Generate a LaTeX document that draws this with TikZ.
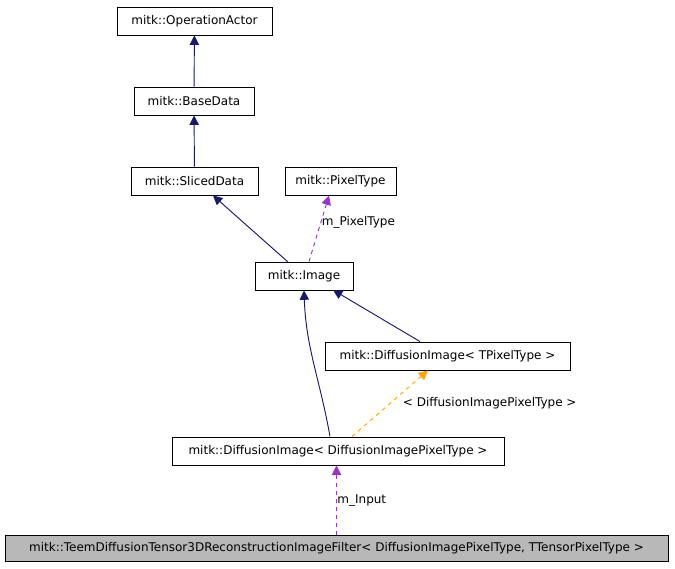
\documentclass[tikz,border=0pt]{standalone}
\usepackage{fontspec}
\setmainfont{DejaVu Sans}
\usetikzlibrary{arrows.meta}
\begin{document}
\begin{tikzpicture}[x=0.75pt, y=-0.75pt, font=\fontsize{9}{10}\selectfont, line width=0.7pt]

	\tikzstyle{klasse}=[draw, fill=white, minimum height=21pt, inner sep=1pt]
	\tikzstyle{erbt}=[navy, -{Triangle[length=7pt, width=7pt]}]
	\tikzstyle{nutzt}=[dashed, -{Triangle[length=7pt, width=7pt]}]
	\definecolor{navy}{RGB}{25,25,112}
	\definecolor{lila}{RGB}{154,50,205}
	\definecolor{orange}{RGB}{255,165,0}

	\useasboundingbox (0,0) rectangle (675,568);

	\node[klasse, minimum width=116.25pt] (opactor) at (194.5,21) {mitk::OperationActor};
	\node[klasse, minimum width=90pt] (basedata) at (194,101) {mitk::BaseData};
	\node[klasse, minimum width=95.25pt] (sliced) at (194.5,181) {mitk::SlicedData};
	\node[klasse, minimum width=83.25pt] (pixeltype) at (340.5,181) {mitk::PixelType};
	\node[klasse, minimum width=73.5pt] (image) at (304,276) {mitk::Image};
	\node[klasse, minimum width=183.75pt] (diffT) at (447.5,356) {mitk::DiffusionImage< TPixelType >};
	\node[klasse, minimum width=249pt] (diffD) at (338,451) {mitk::DiffusionImage< DiffusionImagePixelType >};
	\node[klasse, fill=black!28, minimum width=497.25pt, minimum height=20pt] (teem) at (336.5,548.5) {mitk::TeemDiffusionTensor3DReconstructionImageFilter< DiffusionImagePixelType, TTensorPixelType >};

	\draw[erbt] (basedata) -- (opactor);
	\draw[erbt] (sliced) -- (basedata);
	\draw[erbt] (288,262) -- (sliced.south -| 213,0);
	\draw[erbt] (diffT.north -| 420,0) -- (333,290);
	\draw[erbt] (diffD.north -| 330,0) to[out=100, in=-88] (image.south -| 304,0);

	\draw[nutzt, lila] (image.north -| 309,0) -- node[pos=0.6, right=-3pt, text=black] {m\_PixelType} (pixeltype.south -| 329,0);
	\draw[nutzt, orange] (diffD.north -| 352,0) -- node[pos=0.5, right=6pt, text=black] {< DiffusionImagePixelType >} (diffT.south -| 428,0);
	\draw[nutzt, lila] (teem) -- node[pos=0.5, right=-3pt, text=black] {m\_Input} (diffD.south -| teem);
\end{tikzpicture}
\end{document}
